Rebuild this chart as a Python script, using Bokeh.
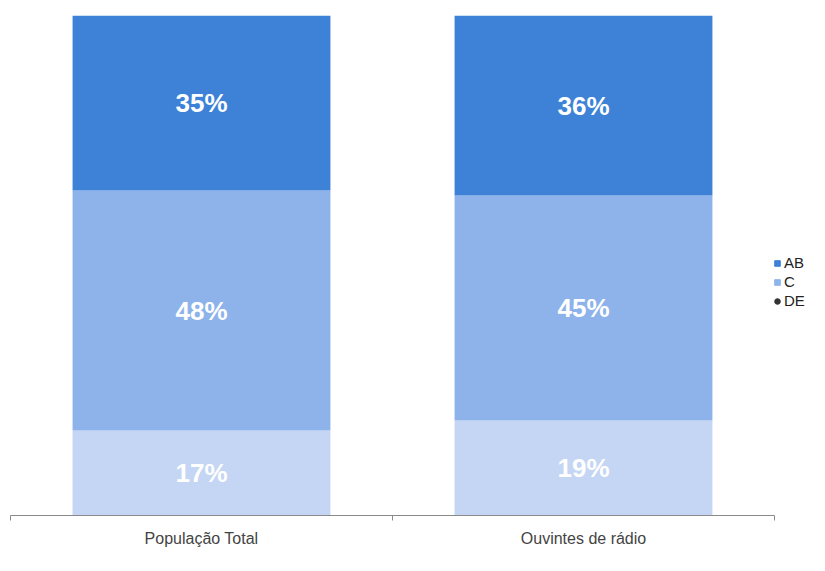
from bokeh.plotting import figure
from bokeh.models import ColumnDataSource, Range1d, FixedTicker, Legend, LegendItem, LabelSet
from bokeh.core.properties import value
from bokeh.embed import file_html
from bokeh.resources import INLINE

categories = ["População Total", "Ouvintes de rádio"]
series = ["DE", "C", "AB"]
de_values = [17, 19]
c_values = [48, 45]
ab_values = [35, 36]
colors = {"DE": "#c4d6f3", "C": "#8db3ea", "AB": "#3e82d8"}

xs = [i + 0.5 for i in range(len(categories))]
data = {"x": xs, "DE": de_values, "C": c_values, "AB": ab_values}
source = ColumnDataSource(data)

n = len(categories)
# extra room on the right of the frame for the legend (axis limited by bounds)
p = figure(width=809, height=555, output_backend="svg", toolbar_location=None,
           x_range=Range1d(0, n * 799 / 764), y_range=Range1d(0, 100),
           y_axis_location=None, min_border_left=10, min_border_top=15,
           min_border_bottom=40, min_border_right=0)
p.outline_line_color = None
p.xgrid.visible = False
p.ygrid.visible = False

renderers = p.vbar_stack(series, x="x", width=0.675, source=source,
                         color=[colors[s] for s in series], line_color=None)

# segment labels
lab_x, lab_y, lab_t = [], [], []
for i, x in enumerate(xs):
    base = 0
    for s in series:
        v = data[s][i]
        lab_x.append(x)
        lab_y.append(base + v / 2)
        lab_t.append(f"{v}%")
        base += v
lsrc = ColumnDataSource(dict(x=lab_x, y=lab_y, t=lab_t))
p.add_layout(LabelSet(x="x", y="y", text="t", source=lsrc, text_color="white",
                      text_font=value("Liberation Sans"), text_font_style="bold",
                      text_font_size="26px", text_align="center",
                      text_baseline="middle"))

ax = p.xaxis[0]
ax.bounds = (0, n)
ax.ticker = FixedTicker(ticks=xs, minor_ticks=list(range(n + 1)))
ax.major_label_overrides = {x: c for x, c in zip(xs, categories)}
ax.major_tick_line_color = None
ax.minor_tick_in = 0
ax.minor_tick_out = 5
ax.minor_tick_line_color = "#8a8a8a"
ax.axis_line_color = "#8a8a8a"
ax.major_label_text_font = "Liberation Sans"
ax.major_label_text_font_size = "16px"
ax.major_label_text_color = "#444444"
ax.major_label_standoff = 8

# legend
nan = float("nan")
leg_colors = {"AB": "#3e82d8", "C": "#8db3ea", "DE": "#333333"}
leg_markers = {"AB": "square", "C": "square", "DE": "circle"}
items = []
for s in ["AB", "C", "DE"]:
    r = p.scatter(x=[nan], y=[nan], marker=leg_markers[s], color=leg_colors[s], size=8)
    items.append(LegendItem(label=s, renderers=[r]))
legend = Legend(items=items, location=(760, 206), border_line_color=None,
                background_fill_alpha=0, glyph_width=14, glyph_height=16,
                label_text_font="Liberation Sans", label_text_font_size="15px",
                label_text_color="#222222", label_standoff=0, spacing=2,
                padding=2, margin=0, label_height=16)
p.add_layout(legend, "center")

open("out.html", "w").write(file_html(p, INLINE))
